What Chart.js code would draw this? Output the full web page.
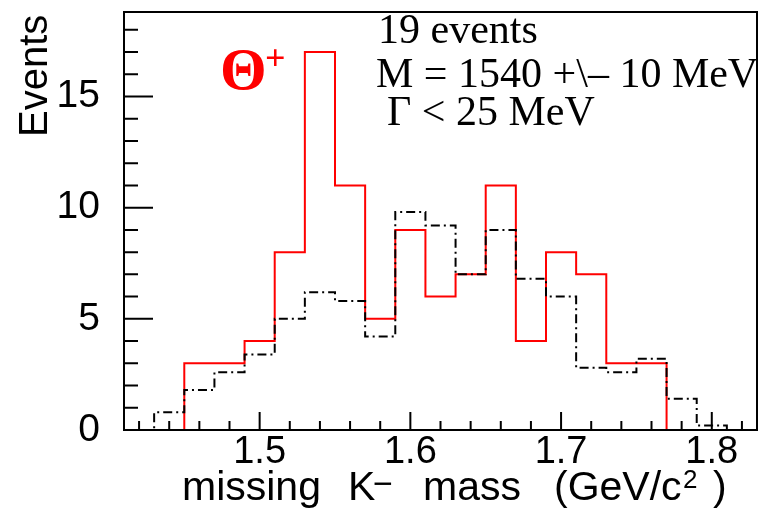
<!DOCTYPE html>
<html lang="en">
<head>
<meta charset="UTF-8">
<title>missing K- mass</title>
<script src="https://cdn.jsdelivr.net/npm/chart.js"></script>
<style>
  html, body { margin: 0; padding: 0; background: #fff; }
  #wrap { width: 765px; height: 512px; }
</style>
</head>
<body>
<div id="wrap"><canvas id="massChart" width="765" height="512"></canvas></div>
<script>
// bin edges (GeV/c^2), 21 bins of 0.02
const binEdges = [1.41, 1.43, 1.45, 1.47, 1.49, 1.51, 1.53, 1.55, 1.57, 1.59, 1.61,
                  1.63, 1.65, 1.67, 1.69, 1.71, 1.73, 1.75, 1.77, 1.79, 1.81, 1.83];
// counts per bin
const thetaCounts = [0, 0, 3, 3, 4, 8, 17, 11, 5, 9, 6, 7, 11, 4, 8, 7, 3, 3, 0, 0, 0];
const bgCounts = [0, 0.8, 1.8, 2.6, 3.4, 5.0, 6.2, 5.8, 4.2, 9.8, 9.2, 7.0, 9.0, 6.8, 6.0,
                  2.8, 2.6, 3.2, 1.4, 0.2, 0];
const xMajorTicks = [1.5, 1.6, 1.7, 1.8];
const xMinorTicks = [1.42, 1.44, 1.46, 1.48, 1.52, 1.54, 1.56, 1.58, 1.62, 1.64, 1.66,
                     1.68, 1.72, 1.74, 1.76, 1.78, 1.82];
const yMajorTicks = [0, 5, 10, 15];
const yMinorTicks = [1, 2, 3, 4, 6, 7, 8, 9, 11, 12, 13, 14, 16, 17, 18];

function histPoints(counts) {
    // one point per edge; the last edge closes the outline
    return binEdges.map((x, i) => ({ x: x, y: i < counts.length ? counts[i] : 0 }));
}

const SANS = '"Liberation Sans", Arial, sans-serif';
const SERIF = '"Liberation Serif", "Times New Roman", serif';

const framePlugin = {
    id: 'rootFrame',
    afterDraw(chart) {
        const ctx = chart.ctx;
        const a = chart.chartArea;
        const xs = chart.scales.x, ys = chart.scales.y;
        ctx.save();
        ctx.strokeStyle = '#000';
        ctx.lineWidth = 2;
        ctx.strokeRect(a.left, a.top, a.right - a.left, a.bottom - a.top);

        // ticks inside the frame
        ctx.beginPath();
        yMajorTicks.forEach(v => { const p = ys.getPixelForValue(v); ctx.moveTo(a.left, p); ctx.lineTo(a.left + 29, p); });
        yMinorTicks.forEach(v => { const p = ys.getPixelForValue(v); ctx.moveTo(a.left, p); ctx.lineTo(a.left + 14, p); });
        xMajorTicks.forEach(v => { const p = xs.getPixelForValue(v); ctx.moveTo(p, a.bottom); ctx.lineTo(p, a.bottom - 18); });
        xMinorTicks.forEach(v => { const p = xs.getPixelForValue(v); ctx.moveTo(p, a.bottom); ctx.lineTo(p, a.bottom - 9); });
        ctx.stroke();

        ctx.fillStyle = '#000';
        ctx.textAlign = 'left';
        ctx.textBaseline = 'alphabetic';

        // y title
        ctx.save();
        ctx.translate(47, 137);
        ctx.rotate(-Math.PI / 2);
        ctx.font = '40px ' + SANS;
        ctx.fillText('Events', 0, 0);
        ctx.restore();

        // x title
        ctx.font = '41px ' + SANS;
        ctx.fillText('missing', 182, 500);
        ctx.fillText('K', 348, 500);
        ctx.font = '34px ' + SANS;
        ctx.fillText('\u2212', 373, 495);
        ctx.font = '41px ' + SANS;
        ctx.fillText('mass', 423, 500);
        ctx.fillText('(GeV/c', 554, 500);
        ctx.font = '26px ' + SANS;
        ctx.fillText('2', 683, 488);
        ctx.font = '41px ' + SANS;
        ctx.fillText(')', 713, 500);

        // annotation text
        ctx.font = '42px ' + SERIF;
        ctx.fillText('19 events', 378, 43);
        ctx.fillText('M = 1540 +\\\u2013 10 MeV', 376, 87);
        ctx.fillText('\u0393 < 25 MeV', 387, 125);

        ctx.fillStyle = '#ff0000';
        ctx.font = 'bold 60px ' + SERIF;
        ctx.fillText('\u0398', 220, 89);
        ctx.font = 'bold 36px ' + SERIF;
        ctx.fillText('+', 265, 70);
        ctx.restore();
    }
};

const ctx = document.getElementById('massChart').getContext('2d');
new Chart(ctx, {
    type: 'line',
    data: {
        datasets: [
            {
                label: 'background',
                data: histPoints(bgCounts),
                stepped: 'before',
                borderColor: '#000000',
                borderWidth: 2,
                borderDash: [9, 4, 2, 4],
                pointRadius: 0,
                fill: false,
                order: 0
            },
            {
                label: 'Theta+',
                data: histPoints(thetaCounts),
                stepped: 'before',
                borderColor: '#ff0000',
                borderWidth: 2,
                pointRadius: 0,
                fill: false,
                order: 1
            }
        ]
    },
    options: {
        responsive: false,
        animation: false,
        layout: { padding: { top: 12, right: 8, left: 0, bottom: 0 } },
        plugins: { legend: { display: false }, tooltip: { enabled: false } },
        scales: {
            x: {
                type: 'linear',
                min: 1.41,
                max: 1.83,
                grid: { display: false, drawTicks: false },
                border: { display: false },
                afterBuildTicks: s => { s.ticks = xMajorTicks.map(v => ({ value: v })); },
                afterFit: s => { s.height = 82; s.paddingLeft = 0; s.paddingRight = 0; },
                ticks: {
                    color: '#000',
                    padding: 0,
                    maxRotation: 0,
                    autoSkip: false,
                    font: { family: SANS, size: 38 },
                    callback: v => v.toFixed(1)
                }
            },
            y: {
                min: 0,
                max: 18.8,
                grid: { display: false, drawTicks: false },
                border: { display: false },
                afterBuildTicks: s => { s.ticks = yMajorTicks.map(v => ({ value: v })); },
                afterFit: s => { s.width = 124; s.paddingTop = 0; s.paddingBottom = 0; },
                ticks: {
                    color: '#000',
                    padding: 24,
                    autoSkip: false,
                    font: { family: SANS, size: 39 },
                    callback: v => String(v)
                }
            }
        }
    },
    plugins: [framePlugin]
});
</script>
</body>
</html>
